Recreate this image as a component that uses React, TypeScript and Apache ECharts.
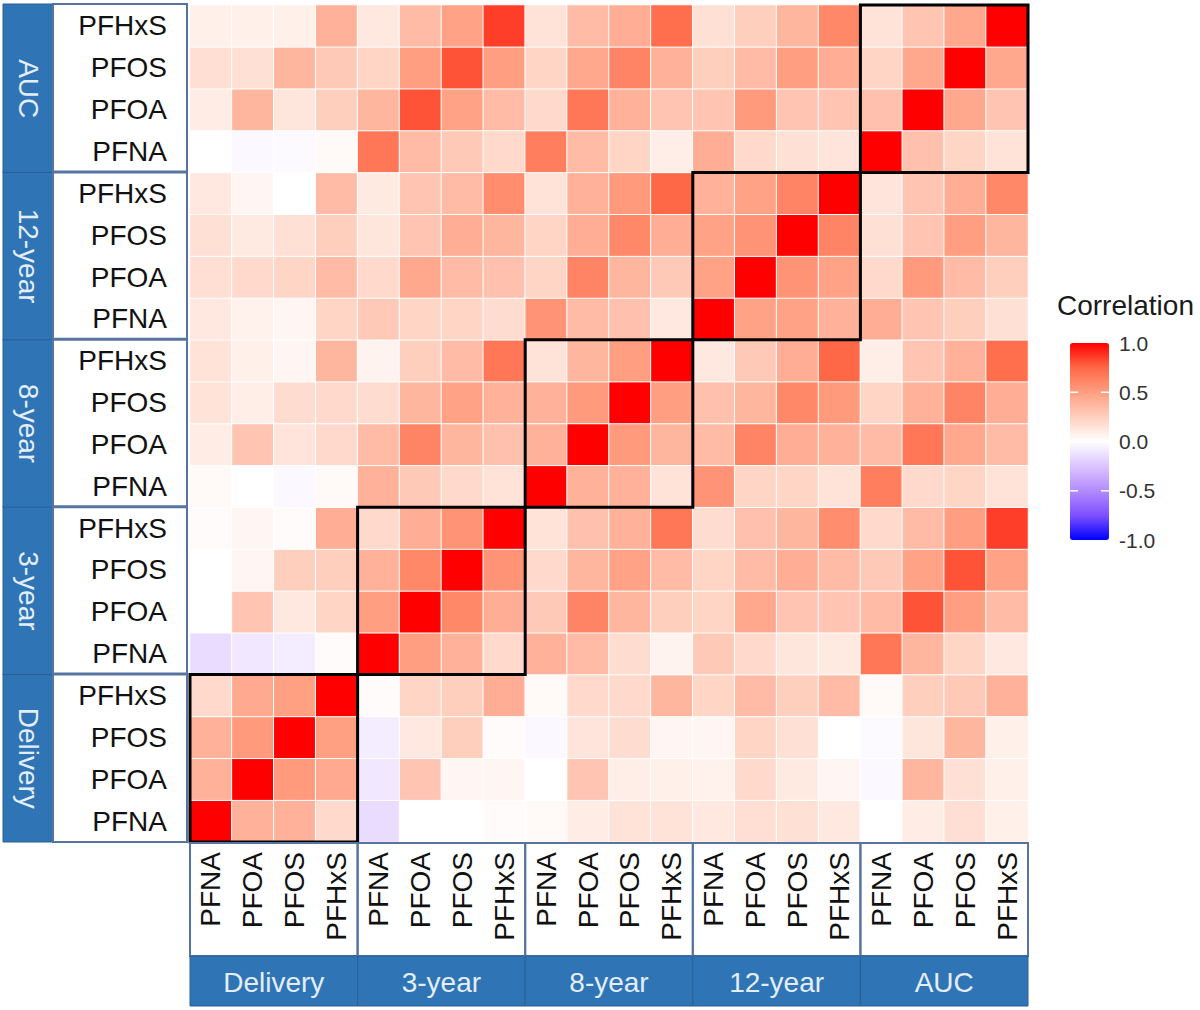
import React, { useEffect, useRef } from "react";
import * as echarts from "echarts";

// Time points (facet groups) and the compounds measured at each one
const GROUPS = ["Delivery", "3-year", "8-year", "12-year", "AUC"];
const COMPOUNDS = ["PFNA", "PFOA", "PFOS", "PFHxS"];

// Lower triangle of the correlation matrix, one row per variable,
// columns running Delivery PFNA ... up to the row's own variable (diagonal = 1)
const R_DELIVERY = [
  [1],
  [0.4, 1],
  [0.4, 0.52, 1],
  [0.2, 0.44, 0.49, 1],
];
const R_3YEAR = [
  [-0.15, -0.1, -0.08, 0.02, 1],
  [0.0, 0.3, 0.12, 0.22, 0.5, 1],
  [0.0, 0.05, 0.25, 0.25, 0.4, 0.6, 1],
  [0.02, 0.05, 0.02, 0.42, 0.2, 0.42, 0.55, 1],
];
const R_8YEAR = [
  [0.03, 0.0, -0.03, 0.03, 0.4, 0.28, 0.2, 0.15, 1],
  [0.1, 0.3, 0.14, 0.2, 0.35, 0.62, 0.38, 0.32, 0.4, 1],
  [0.15, 0.09, 0.18, 0.2, 0.18, 0.38, 0.48, 0.4, 0.4, 0.52, 1],
  [0.15, 0.08, 0.05, 0.38, 0.06, 0.25, 0.35, 0.68, 0.15, 0.38, 0.5, 1],
];
const R_12YEAR = [
  [0.12, 0.07, 0.05, 0.22, 0.28, 0.22, 0.22, 0.18, 0.55, 0.35, 0.32, 0.12, 1],
  [0.17, 0.2, 0.22, 0.35, 0.2, 0.45, 0.35, 0.32, 0.22, 0.62, 0.38, 0.28, 0.48, 1],
  [0.16, 0.11, 0.16, 0.25, 0.13, 0.3, 0.42, 0.38, 0.22, 0.42, 0.6, 0.42, 0.48, 0.55, 1],
  [0.12, 0.05, 0.0, 0.35, 0.11, 0.3, 0.35, 0.58, 0.15, 0.4, 0.52, 0.75, 0.4, 0.48, 0.62, 1],
];
const R_AUC = [
  [0.0, -0.03, -0.02, 0.03, 0.68, 0.35, 0.28, 0.2, 0.65, 0.35, 0.22, 0.09, 0.42, 0.2, 0.16, 0.14, 1],
  [0.1, 0.38, 0.13, 0.25, 0.38, 0.8, 0.48, 0.35, 0.2, 0.68, 0.4, 0.3, 0.3, 0.52, 0.3, 0.3, 0.32, 1],
  [0.17, 0.16, 0.38, 0.28, 0.22, 0.5, 0.8, 0.5, 0.22, 0.45, 0.62, 0.4, 0.25, 0.35, 0.5, 0.42, 0.22, 0.45, 1],
  [0.08, 0.08, 0.08, 0.4, 0.12, 0.35, 0.48, 0.85, 0.15, 0.35, 0.42, 0.72, 0.16, 0.25, 0.38, 0.6, 0.15, 0.3, 0.45, 1],
];

// Colour bar breaks
const LEGEND_TICKS = [1.0, 0.5, 0.0, -0.5, -1.0];

const FONT = '"Liberation Sans", Arial, Helvetica, sans-serif';
const STRIP_BLUE = "#2F74B5";
const STRIP_TEXT = "#E4EEF9";
const BOX_BORDER = "#56749F";

// Layout (pixels)
const GRID = { left: 190, top: 5, width: 838, height: 837 };
const LEFT_STRIP_X0 = 3;
const LEFT_STRIP_X1 = 53;
const LEFT_BOX_X1 = 187;
const BOTTOM_BOX_H = 113;
const BOTTOM_STRIP_H = 50;
const BAR = { left: 1070, top: 343, width: 39, height: 197 };

// Blue - white - red diverging palette, sampled along a Lab interpolation
const PALETTE = [
  "#0000FF", "#7E51FF", "#B28BFF", "#DCC4FF", "#FFFFFF",
  "#FFCFBE", "#FF9E81", "#FF6846", "#FF0000",
];

function buildMatrix(): number[][] {
  const lower = [...R_DELIVERY, ...R_3YEAR, ...R_8YEAR, ...R_12YEAR, ...R_AUC];
  const n = lower.length;
  const m: number[][] = [];
  for (let i = 0; i < n; i++) {
    m.push([]);
    for (let j = 0; j < n; j++) {
      m[i].push(j <= i ? lower[i][j] : lower[j][i]);
    }
  }
  return m;
}

export default function App() {
  const ref = useRef<HTMLDivElement>(null);

  useEffect(() => {
    if (!ref.current) return;
    const chart = echarts.init(ref.current, undefined, { renderer: "svg" });

    const keys: string[] = [];
    GROUPS.forEach((g) => COMPOUNDS.forEach((c) => keys.push(g + "|" + c)));
    const matrix = buildMatrix();
    const cells: number[][] = [];
    for (let i = 0; i < matrix.length; i++) {
      for (let j = 0; j < matrix.length; j++) {
        cells.push([j, i, matrix[i][j]]);
      }
    }
    const blocks = GROUPS.map((g, k) => [k * COMPOUNDS.length, k * COMPOUNDS.length, k]);
    const labelOf = (v: string) => v.split("|")[1];

    const axisCommon = {
      type: "category" as const,
      data: keys,
      axisLine: { show: false },
      axisTick: { show: false },
      splitLine: { show: false },
      splitArea: { show: false },
    };

    const tickY = (v: number) => BAR.top + ((1 - v) / 2) * BAR.height;

    const legendGraphics: any[] = [
      {
        type: "text",
        left: 1057,
        top: 291,
        style: { text: "Correlation", fontSize: 28, fontFamily: FONT, fill: "#1a1a1a" },
      },
    ];
    LEGEND_TICKS.forEach((t) => {
      legendGraphics.push({
        type: "text",
        x: 1119,
        y: tickY(t),
        style: {
          text: t.toFixed(1),
          fontSize: 21,
          fontFamily: FONT,
          fill: "#333",
          verticalAlign: "middle",
          align: "left",
        },
      });
      if (t < 1 && t > -1) {
        const y = tickY(t);
        legendGraphics.push({
          type: "line",
          shape: { x1: BAR.left, y1: y, x2: BAR.left + 8, y2: y },
          style: { stroke: "#fff", lineWidth: 1.5 },
          z: 100,
        });
        legendGraphics.push({
          type: "line",
          shape: { x1: BAR.left + BAR.width - 8, y1: y, x2: BAR.left + BAR.width, y2: y },
          style: { stroke: "#fff", lineWidth: 1.5 },
          z: 100,
        });
      }
    });

    const option: any = {
      animation: false,
      backgroundColor: "#ffffff",
      textStyle: { fontFamily: FONT },
      grid: { ...GRID, outerBoundsMode: "none" },
      xAxis: {
        ...axisCommon,
        axisLabel: {
          interval: 0,
          rotate: 90,
          margin: 10,
          fontSize: 28,
          color: "#111",
          fontFamily: FONT,
          formatter: labelOf,
        },
      },
      yAxis: {
        ...axisCommon,
        axisLabel: {
          interval: 0,
          margin: 23,
          fontSize: 28,
          color: "#111",
          fontFamily: FONT,
          formatter: labelOf,
        },
      },
      visualMap: {
        type: "continuous",
        seriesIndex: 0,
        min: -1,
        max: 1,
        calculable: false,
        orient: "vertical",
        left: BAR.left,
        top: BAR.top,
        itemWidth: BAR.width,
        itemHeight: BAR.height,
        padding: 0,
        text: null,
        hoverLink: false,
        inRange: { color: PALETTE },
      },
      graphic: legendGraphics,
      series: [
        {
          type: "heatmap",
          data: cells,
          itemStyle: { borderColor: "#ffffff", borderWidth: 1 },
          emphasis: { disabled: true },
        },
        {
          // black frames around the within-time-point blocks
          type: "custom",
          data: blocks,
          clip: false,
          silent: true,
          renderItem: (_p: any, api: any) => {
            const s = api.value(0);
            const n = COMPOUNDS.length;
            const a = api.coord([s, s]);
            const b = api.coord([s + n - 1, s + n - 1]);
            const sz = api.size([1, 1]);
            const x0 = a[0] - sz[0] / 2;
            const x1 = b[0] + sz[0] / 2;
            const y0 = b[1] - sz[1] / 2;
            const y1 = a[1] + sz[1] / 2;
            return {
              type: "rect",
              shape: { x: x0, y: y0, width: x1 - x0, height: y1 - y0 },
              style: { fill: "none", stroke: "#000", lineWidth: 3 },
            };
          },
        },
        {
          // facet strips along the left and bottom edges
          type: "custom",
          data: blocks,
          clip: false,
          silent: true,
          renderItem: (_p: any, api: any) => {
            const s = api.value(0);
            const k = api.value(2);
            const n = COMPOUNDS.length;
            const a = api.coord([s, s]);
            const b = api.coord([s + n - 1, s + n - 1]);
            const sz = api.size([1, 1]);
            const x0 = a[0] - sz[0] / 2;
            const x1 = b[0] + sz[0] / 2;
            const y0 = b[1] - sz[1] / 2;
            const y1 = a[1] + sz[1] / 2;
            const gridBottom = GRID.top + GRID.height;
            const name = GROUPS[k];
            return {
              type: "group",
              children: [
                {
                  type: "rect",
                  shape: { x: LEFT_STRIP_X0, y: y0 - 1, width: LEFT_STRIP_X1 - LEFT_STRIP_X0, height: y1 - y0 + 1 },
                  style: { fill: STRIP_BLUE, stroke: "#2a5f95", lineWidth: 1 },
                },
                {
                  type: "rect",
                  shape: { x: LEFT_STRIP_X1, y: y0 - 1, width: LEFT_BOX_X1 - LEFT_STRIP_X1, height: y1 - y0 + 1 },
                  style: { fill: "none", stroke: BOX_BORDER, lineWidth: 2 },
                },
                {
                  type: "text",
                  x: (LEFT_STRIP_X0 + LEFT_STRIP_X1) / 2,
                  y: (y0 + y1) / 2,
                  rotation: -Math.PI / 2,
                  style: {
                    text: name,
                    fill: STRIP_TEXT,
                    fontSize: 28,
                    fontFamily: FONT,
                    align: "center",
                    verticalAlign: "middle",
                  },
                },
                {
                  type: "rect",
                  shape: { x: x0, y: gridBottom + 1, width: x1 - x0, height: BOTTOM_BOX_H },
                  style: { fill: "none", stroke: BOX_BORDER, lineWidth: 2 },
                },
                {
                  type: "rect",
                  shape: { x: x0, y: gridBottom + 1 + BOTTOM_BOX_H, width: x1 - x0, height: BOTTOM_STRIP_H },
                  style: { fill: STRIP_BLUE, stroke: "#2a5f95", lineWidth: 1 },
                },
                {
                  type: "text",
                  x: (x0 + x1) / 2,
                  y: gridBottom + 1 + BOTTOM_BOX_H + BOTTOM_STRIP_H / 2 + 1,
                  style: {
                    text: name,
                    fill: STRIP_TEXT,
                    fontSize: 28,
                    fontFamily: FONT,
                    align: "center",
                    verticalAlign: "middle",
                  },
                },
              ],
            };
          },
        },
      ],
    };

    chart.setOption(option);
    return () => chart.dispose();
  }, []);

  return (
    <div
      ref={ref}
      style={{ position: "fixed", left: 0, top: 0, width: 1200, height: 1010, background: "#fff" }}
    />
  );
}
